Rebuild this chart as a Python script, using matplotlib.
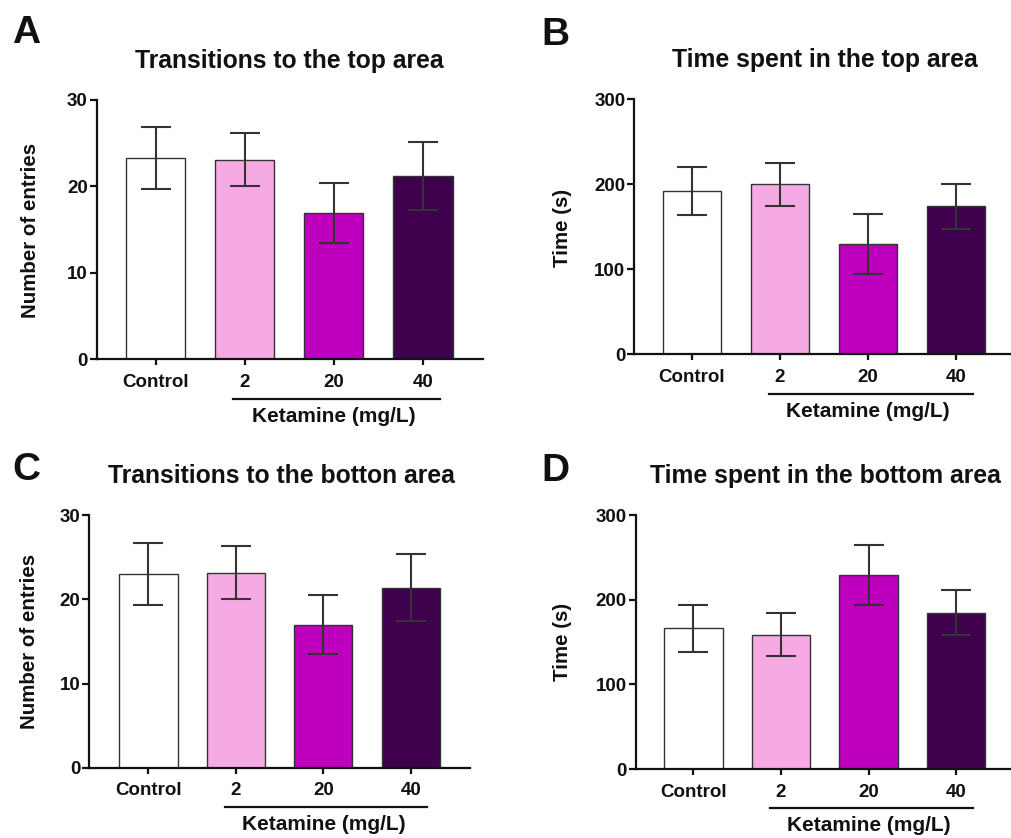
import matplotlib
matplotlib.use("Agg")
import matplotlib.pyplot as plt

plt.rcParams['font.family'] = ['Liberation Sans', 'DejaVu Sans']
plt.rcParams['font.weight'] = 'bold'

groups = ["Control", "2", "20", "40"]
colors = ["#FFFFFF", "#F6AAE4", "#BE00BE", "#3F004E"]

entries_top = [23.25, 23.1, 16.9, 21.2]
entries_top_err = [3.6, 3.1, 3.5, 3.9]
time_top = [192, 200, 129.5, 174]
time_top_err = [28, 25, 35, 26.5]
entries_bottom = [23.0, 23.2, 17.0, 21.4]
entries_bottom_err = [3.7, 3.15, 3.5, 3.95]
time_bottom = [166.5, 159, 229.5, 185]
time_bottom_err = [28, 25.5, 35, 26.5]

W, H = 1012, 838
fig = plt.figure(figsize=(W / 100, H / 100), dpi=100)

def px_axes(left, right, top, bottom):
    return fig.add_axes([left / W, 1 - bottom / H, (right - left) / W, (bottom - top) / H])

panels = [
    dict(box=(96.7, 483, 100, 359), xlim=(-0.661, 3.674), vals=entries_top, err=entries_top_err,
         ymax=30, yt=[0, 10, 20, 30], title="Transitions to the top area", tpos=(289.7, 68),
         ylabel="Number of entries", ylpos=(30.8, 230), letter="A", lpos=(12, 43)),
    dict(box=(634.3, 1014, 99.3, 354.3), xlim=(-0.656, 3.66), vals=time_top, err=time_top_err,
         ymax=300, yt=[0, 100, 200, 300], title="Time spent in the top area", tpos=(825, 66.7),
         ylabel="Time (s)", ylpos=(562.5, 228), letter="B", lpos=(541, 45)),
    dict(box=(89.3, 470, 515.3, 767.7), xlim=(-0.677, 3.677), vals=entries_bottom, err=entries_bottom_err,
         ymax=30, yt=[0, 10, 20, 30], title="Transitions to the botton area", tpos=(281.7, 482.7),
         ylabel="Number of entries", ylpos=(30, 641.7), letter="C", lpos=(12, 480)),
    dict(box=(636, 1014, 515.3, 769), xlim=(-0.656, 3.66), vals=time_bottom, err=time_bottom_err,
         ymax=300, yt=[0, 100, 200, 300], title="Time spent in the bottom area", tpos=(825.8, 482.7),
         ylabel="Time (s)", ylpos=(562.5, 641.7), letter="D", lpos=(541, 480.5)),
]

for p in panels:
    ax = px_axes(*p["box"])
    x = list(range(len(groups)))
    ax.bar(x, p["vals"], width=0.665, color=colors, edgecolor="#333333", linewidth=1.0, zorder=2)
    ax.errorbar(x, p["vals"], yerr=p["err"], fmt="none", ecolor="#333333", elinewidth=1.5,
                capsize=10.6, capthick=1.5, zorder=3)
    ax.set_xlim(*p["xlim"])
    ax.set_ylim(0, p["ymax"])
    ax.set_yticks(p["yt"])
    ax.set_xticks(x)
    ax.set_xticklabels(groups)
    for s in ["top", "right"]:
        ax.spines[s].set_visible(False)
    for s in ["left", "bottom"]:
        ax.spines[s].set_linewidth(1.6)
        ax.spines[s].set_color("#111111")
    ax.tick_params(axis="y", length=5, width=1.6, pad=1.5, labelsize=13.5, colors="#111111")
    ax.tick_params(axis="x", length=4.5, width=1.6, pad=6, labelsize=13.5, colors="#111111")
    for lab in ax.get_xticklabels() + ax.get_yticklabels():
        lab.set_fontweight("bold")
    # Ketamine group bar and label
    trans = ax.get_xaxis_transform()
    ax.plot([0.87, 3.19], [-0.155, -0.155], transform=trans, color="#111111", lw=1.6, clip_on=False)
    ax.text(2.0, -0.245, "Ketamine (mg/L)", transform=trans, ha="center", va="baseline",
            fontsize=15, fontweight="bold", color="#111111")
    # title, ylabel, letter in pixel coords
    tx, ty = p["tpos"]
    fig.text(tx / W, 1 - ty / H, p["title"], ha="center", va="baseline", fontsize=17.8,
             fontweight="bold", color="#111111")
    lx, ly = p["ylpos"]
    fig.text(lx / W, 1 - ly / H, p["ylabel"], ha="center", va="center", rotation=90,
             fontsize=14.8, fontweight="bold", color="#111111")
    px, py = p["lpos"]
    fig.text(px / W, 1 - py / H, p["letter"], ha="left", va="baseline", fontsize=28,
             fontweight="bold", color="#111111")

fig.savefig("out.png", dpi=100, facecolor="white")
